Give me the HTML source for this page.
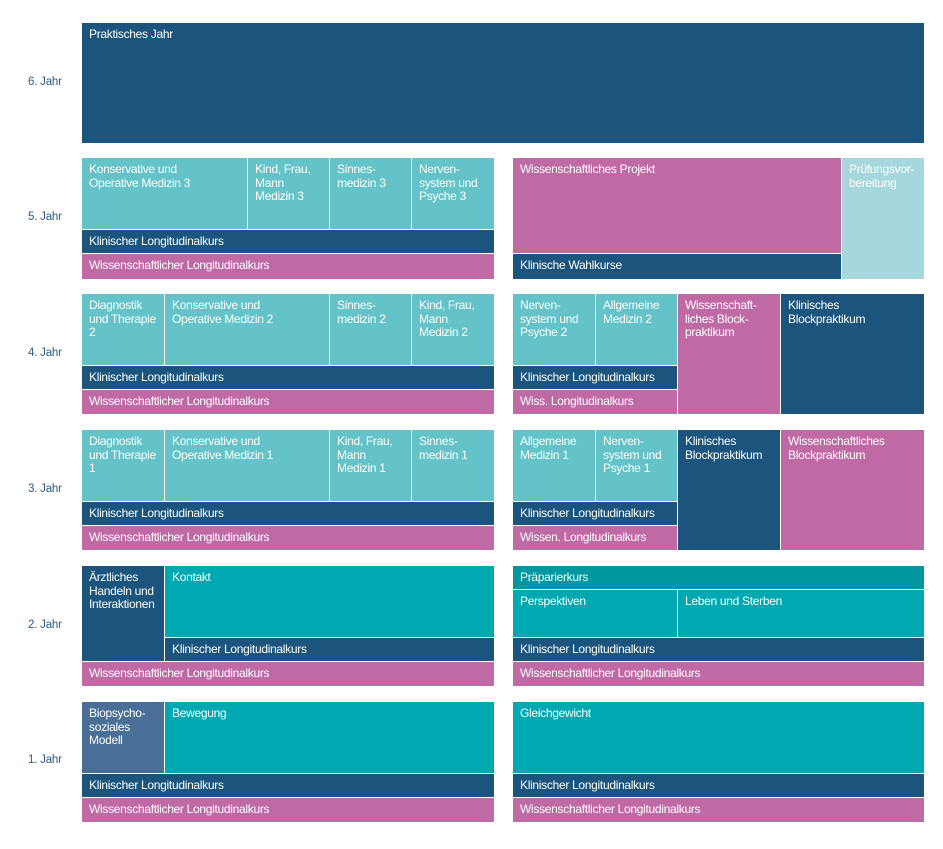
<!DOCTYPE html>
<html><head><meta charset="utf-8"><style>
body{margin:0;width:943px;height:849px;background:#fff;position:relative;overflow:hidden;font-family:"Liberation Sans",sans-serif}
.c{position:absolute;box-sizing:border-box;color:#fff;font-size:12px;line-height:13.5px;letter-spacing:-0.3px;padding:5px 6px 0 7px;overflow:hidden}
.y{position:absolute;left:28px;font-size:11.5px;color:#2d5a84;letter-spacing:-0.2px}
</style></head><body>
<div id="root"></div>
<script>
var D='#1b547c',L='#64c3c9',M='#bf6aa5',T='#00a9b1',P='#a5d7dc',G='#4a6f96',K='#0097a0';
var years=[['6. Jahr',83],['5. Jahr',218],['4. Jahr',354],['3. Jahr',490],['2. Jahr',626],['1. Jahr',761]];
var cells=[
[82,23,924,143,D,'Praktisches Jahr'],
// year 5
[82,158,248,230,L,'Konservative und<br>Operative Medizin 3'],[248,158,330,230,L,'Kind, Frau,<br>Mann<br>Medizin 3'],[330,158,412,230,L,'Sinnes-<br>medizin 3'],[412,158,494,230,L,'Nerven-<br>system und<br>Psyche 3'],
[82,230,494,254,D,'Klinischer Longitudinalkurs'],[82,254,494,279,M,'Wissenschaftlicher Longitudinalkurs'],
[513,158,842,254,M,'Wissenschaftliches Projekt'],[513,254,842,279,D,'Klinische Wahlkurse'],[842,158,924,279,P,'Prüfungsvor-<br>bereitung'],
// year 4
[82,294,165,366,L,'Diagnostik<br>und Therapie<br>2'],[165,294,330,366,L,'Konservative und<br>Operative Medizin 2'],[330,294,412,366,L,'Sinnes-<br>medizin 2'],[412,294,494,366,L,'Kind, Frau,<br>Mann<br>Medizin 2'],
[82,366,494,390,D,'Klinischer Longitudinalkurs'],[82,390,494,414,M,'Wissenschaftlicher Longitudinalkurs'],
[513,294,596,366,L,'Nerven-<br>system und<br>Psyche 2'],[596,294,678,366,L,'Allgemeine<br>Medizin 2'],[513,366,678,390,D,'Klinischer Longitudinalkurs'],[513,390,678,414,M,'Wiss. Longitudinalkurs'],
[678,294,781,414,M,'Wissenschaft-<br>liches Block-<br>praktikum'],[781,294,924,414,D,'Klinisches<br>Blockpraktikum'],
// year 3
[82,430,165,502,L,'Diagnostik<br>und Therapie<br>1'],[165,430,330,502,L,'Konservative und<br>Operative Medizin 1'],[330,430,412,502,L,'Kind, Frau,<br>Mann<br>Medizin 1'],[412,430,494,502,L,'Sinnes-<br>medizin 1'],
[82,502,494,526,D,'Klinischer Longitudinalkurs'],[82,526,494,550,M,'Wissenschaftlicher Longitudinalkurs'],
[513,430,596,502,L,'Allgemeine<br>Medizin 1'],[596,430,678,502,L,'Nerven-<br>system und<br>Psyche 1'],[513,502,678,526,D,'Klinischer Longitudinalkurs'],[513,526,678,550,M,'Wissen. Longitudinalkurs'],
[678,430,781,550,D,'Klinisches<br>Blockpraktikum'],[781,430,924,550,M,'Wissenschaftliches<br>Blockpraktikum'],
// year 2
[82,566,165,662,D,'Ärztliches<br>Handeln und<br>Interaktionen'],[165,566,494,638,T,'Kontakt'],[165,638,494,662,D,'Klinischer Longitudinalkurs'],[82,662,494,686,M,'Wissenschaftlicher Longitudinalkurs'],
[513,566,924,590,K,'Präparierkurs'],[513,590,678,638,T,'Perspektiven'],[678,590,924,638,T,'Leben und Sterben'],[513,638,924,662,D,'Klinischer Longitudinalkurs'],[513,662,924,686,M,'Wissenschaftlicher Longitudinalkurs'],
// year 1
[82,702,165,774,G,'Biopsycho-<br>soziales<br>Modell'],[165,702,494,774,T,'Bewegung'],[82,774,494,798,D,'Klinischer Longitudinalkurs'],[82,798,494,822,M,'Wissenschaftlicher Longitudinalkurs'],
[513,702,924,774,T,'Gleichgewicht'],[513,774,924,798,D,'Klinischer Longitudinalkurs'],[513,798,924,822,M,'Wissenschaftlicher Longitudinalkurs']
];
var root=document.getElementById('root');
years.forEach(function(y){
  var el=document.createElement('div');el.className='y';
  el.style.top=(y[1]-7)+'px';el.textContent=y[0];
  
  
  root.appendChild(el);
});
cells.forEach(function(c){
  var el=document.createElement('div');el.className='c';
  var x1=c[0],y1=c[1],x2=c[2],y2=c[3];
  var rEdge=(x2==494||x2==924)?0:1, bEdge=(y2==143||y2==279||y2==414||y2==550||y2==686||y2==822)?0:1;
  el.style.left=x1+'px';el.style.top=y1+'px';
  el.style.width=(x2-x1-rEdge)+'px';el.style.height=(y2-y1-bEdge)+'px';
  el.style.background=c[4];
  if(y2-y1<=25){el.style.paddingTop='5px';}
  el.innerHTML=c[5];
  
  
  root.appendChild(el);
});
</script>
</body></html>
